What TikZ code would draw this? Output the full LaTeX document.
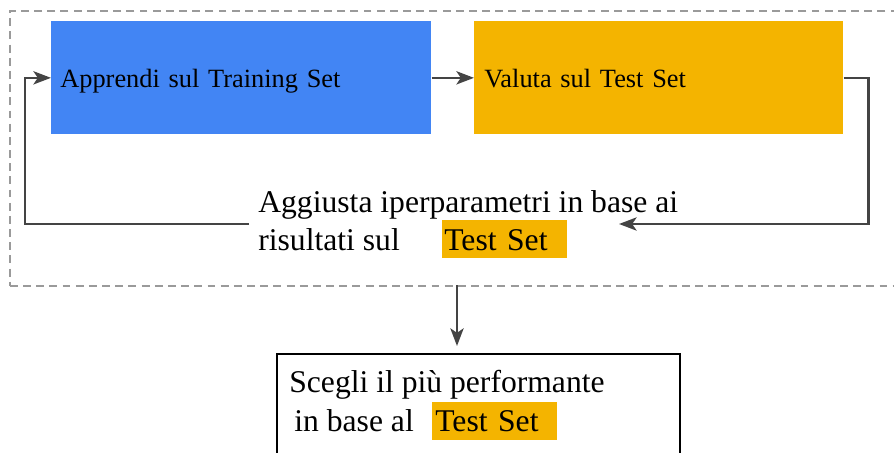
\documentclass[tikz,border=0pt]{standalone}
\usepackage{fontspec}
\setmainfont{Liberation Serif}
\usetikzlibrary{arrows.meta}
\definecolor{gblue}{HTML}{4285F4}
\definecolor{gyellow}{HTML}{F4B400}
\definecolor{darkline}{HTML}{444444}
\definecolor{framegray}{HTML}{9A9A9A}

\begin{document}
\begin{tikzpicture}[x=0.02cm,y=-0.02cm,
  stepbox/.style={anchor=north west,inner ysep=0pt,text height=1.32cm,text depth=0.94cm,align=left,font=\fontsize{15}{18}\selectfont},
  word/.style={anchor=base west,inner sep=0pt,font=\fontsize{18}{22}\selectfont},
  hl/.style={word,fill=gyellow,inner ysep=0pt,text height=0.6cm,text depth=0.16cm,align=left},
  arr/.style={draw=darkline,line width=1.5pt,-{Stealth[length=10pt,width=7.5pt,inset=2.5pt]}}]
\useasboundingbox (0,0) rectangle (894,453);

\node[draw=framegray,line width=1pt,dash pattern=on 4.5pt off 3pt,anchor=north west,
  minimum width=18cm,minimum height=5.5cm] (frame) at (9,10) {};

\node[stepbox,fill=gblue,inner xsep=0.18cm,text width=7.24cm] (train) at (51,21) {Apprendi sul Training Set};
\node[stepbox,fill=gyellow,inner xsep=0.2cm,text width=6.98cm] (test) at (474,21) {Valuta sul Test Set};
\draw[arr] (train.east) -- (test.west);

\node[word] (adjust) at (258,212) {Aggiusta iperparametri in base ai};
\node[word] (adjust2) at (258,250) {risultati sul};
\node[hl,inner xsep=0.04cm,text width=2.42cm] (adjustts) at (442,250) {Test Set};

\coordinate (back) at (619,224);
\coordinate (from) at (249,224);
\draw[arr] (test.east) -- ++(25,0) |- (back);
\draw[arr] (from) -- ++(-224,0) |- (train.west);

\node[draw=black,line width=1.1pt,anchor=north west,minimum width=8.06cm,minimum height=3cm] (choose) at (276,353) {};
\node[word] (pick) at (289,392) {Scegli il più performante};
\node[word] (pick2) at (294,431.5) {in base al};
\node[hl,inner xsep=0.06cm,text width=2.38cm] (pickts) at (432,431.5) {Test Set};

\coordinate (drop) at (457,285);
\draw[arr,shorten >=0.14cm] (drop) -- (drop |- choose.north);
\end{tikzpicture}
\end{document}
